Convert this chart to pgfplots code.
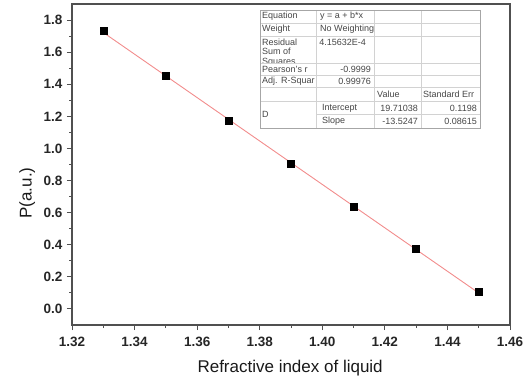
\documentclass[border=0pt]{standalone}
\usepackage{pgfplots}
\pgfplotsset{compat=1.18}
\usepackage{fontspec}
\setmainfont{Liberation Sans}
\definecolor{fitred}{RGB}{242,140,140}
\definecolor{framegray}{RGB}{80,80,80}
\definecolor{tabtext}{RGB}{70,70,70}
\definecolor{tabline}{RGB}{210,210,210}
\begin{document}
\begin{tikzpicture}
\useasboundingbox (0pt,0pt) rectangle (529pt,-385pt);
\begin{axis}[
  at={(72pt,-325pt)}, anchor=south west,
  scale only axis, width=438pt, height=321pt,
  xmin=1.32, xmax=1.46, ymin=-0.1, ymax=1.9,
  xtick={1.32,1.34,1.36,1.38,1.40,1.42,1.44,1.46},
  ytick={0,0.2,0.4,0.6,0.8,1.0,1.2,1.4,1.6,1.8},
  minor tick num=1,
  xtick pos=bottom, ytick pos=left,
  tick align=outside,
  major tick length=5pt, minor tick length=3pt,
  every tick/.style={framegray, line width=1pt},
  axis line style={framegray, line width=1.2pt},
  /pgf/number format/assume math mode=true,
  tick label style={font=\fontsize{13.5}{15}\selectfont\bfseries, text=black!85},
  xticklabel style={yshift=-4pt, /pgf/number format/.cd, fixed, fixed zerofill, precision=2},
  yticklabel style={xshift=-1pt, /pgf/number format/.cd, fixed, fixed zerofill, precision=1},
  xlabel={Refractive index of liquid},
  ylabel={P(a.u.)},
  label style={font=\fontsize{17}{20}\selectfont, text=black!90},
  xlabel style={at={(axis description cs:0.498,-0.134)}, anchor=center},
  ylabel style={at={(axis description cs:-0.102,0.411)}, anchor=center},
  clip=false,
]
\addplot[fitred, line width=0.9pt] coordinates {(1.33,1.7225) (1.45,0.0996)};
\addplot[only marks, mark=square*, mark size=3.5pt, black] coordinates {
  (1.33,1.731) (1.35,1.451) (1.37,1.171) (1.39,0.903) (1.41,0.635) (1.43,0.374) (1.45,0.110)};
\end{axis}
\begin{scope}[x=1pt,y=-1pt, every node/.style={font=\fontsize{9}{9}\selectfont, text=tabtext, inner sep=0pt}]
  \fill[white] (260,10) rectangle (480,128);
  % horizontal lines
  \draw[tabline, line width=0.6pt] (260,23) -- (480,23);
  \draw[tabline, line width=0.6pt] (260,36) -- (480,36);
  \draw[tabline, line width=0.6pt] (260,63) -- (480,63);
  \draw[tabline, line width=0.6pt] (260,75) -- (480,75);
  \draw[tabline, line width=0.6pt] (260,87) -- (480,87);
  \draw[tabline, line width=0.6pt] (260,101) -- (480,101);
  \draw[tabline, line width=0.6pt] (316,114) -- (480,114);
  % vertical lines
  \draw[tabline, line width=0.6pt] (316,10) -- (316,128);
  \draw[tabline, line width=0.6pt] (374,10) -- (374,128);
  \draw[tabline, line width=0.6pt] (421,10) -- (421,128);
  \draw[black!35, line width=0.9pt] (260,10) rectangle (480,128);
  % column 1
  \node[anchor=west] at (262,16.5) {Equation};
  \node[anchor=west] at (262,29.5) {Weight};
  \begin{scope}
    \clip (261,37) rectangle (315,62.3);
    \node[anchor=west] at (262,42.5) {Residual};
    \node[anchor=west] at (262,51.5) {Sum of};
    \node[anchor=west] at (262,62.5) {Squares};
  \end{scope}
  \node[anchor=west] at (262,69.5) {Pearson's r};
  \node[anchor=west] at (262,81) {Adj. R-Squar};
  \node[anchor=west] at (262,114.5) {D};
  % column 2
  \node[anchor=west] at (320,16.5) {y = a + b*x};
  \node[anchor=west] at (320,29.5) {No Weighting};
  \node[anchor=east] at (366,42.5) {4.15632E-4};
  \node[anchor=east] at (371,69.5) {-0.9999};
  \node[anchor=east] at (371,81) {0.99976};
  \node[anchor=west] at (322,108) {Intercept};
  \node[anchor=west] at (322,121) {Slope};
  % column 3
  \node[anchor=west] at (377,94.5) {Value};
  \node[anchor=east] at (418,108) {19.71038};
  \node[anchor=east] at (418,121) {-13.5247};
  % column 4
  \node[anchor=west] at (423,94.5) {Standard Err};
  \node[anchor=east] at (477,108) {0.1198};
  \node[anchor=east] at (477,121) {0.08615};
\end{scope}
\end{tikzpicture}
\end{document}
